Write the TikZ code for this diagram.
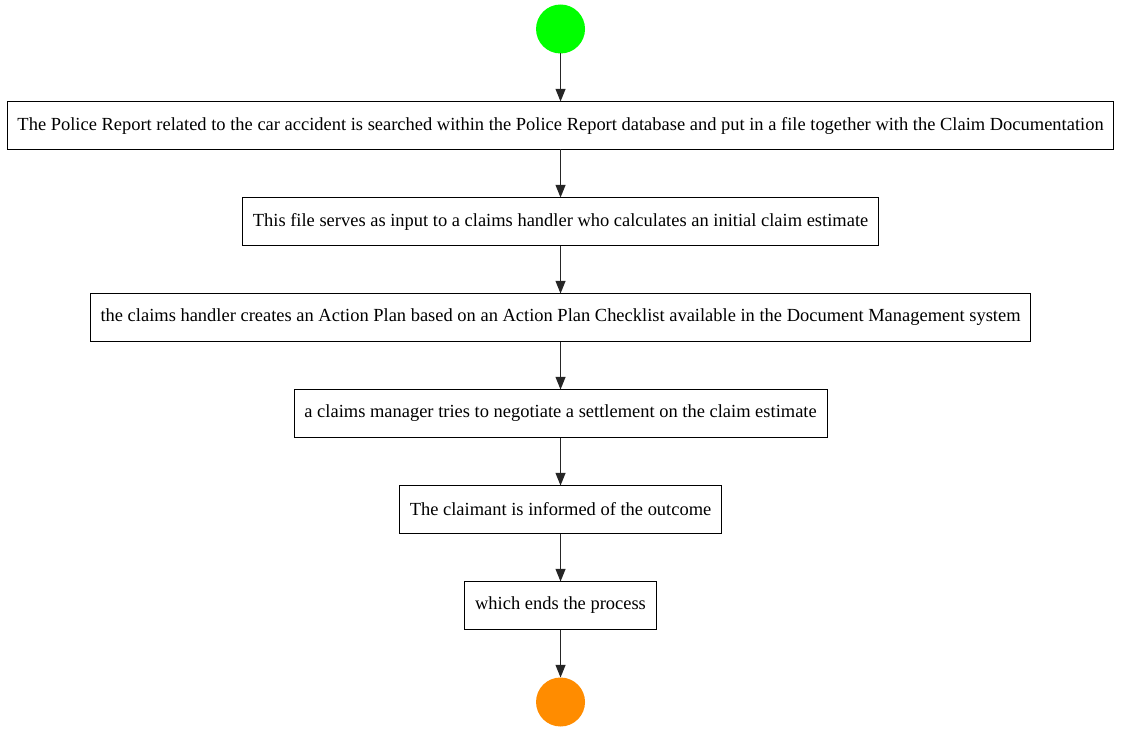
\documentclass[tikz,border=0pt]{standalone}
\usepackage{fontspec}
\setmainfont{Liberation Serif}
\usepackage{xcolor}
\usetikzlibrary{positioning, arrows.meta}

\definecolor{startgreen}{HTML}{00FF00}
\definecolor{endorange}{HTML}{FF8C00}

\begin{document}
\begin{tikzpicture}[node distance=36pt, every node/.style={font=\fontsize{13.85pt}{16pt}\selectfont, align=center}, arrow/.style={-{Triangle[length=9.5pt, width=7.5pt]}, line width=0.8pt, draw=black!85}]
        \tikzstyle{task} = [rectangle, draw=black, line width=0.75pt, outer sep=0pt, inner xsep=7.8pt, minimum height=36pt]
        \tikzstyle{startnode} = [circle, fill=startgreen, minimum size=36.75pt, inner sep=0pt, outer sep=0pt]
        \tikzstyle{endnode} = [circle, fill=endorange, minimum size=36.75pt, inner sep=0pt, outer sep=0pt]

        \useasboundingbox (0,0) rectangle (840.75pt,-548.25pt);

        \node[startnode] (start) at (420.4pt,-21.75pt) {};
        \node[task, below=36pt of start] (police) {The Police Report related to the car accident is searched within the Police Report database and put in a file together with the Claim Documentation};
        \node[task, below=of police] (estimate) {This file serves as input to a claims handler who calculates an initial claim estimate};
        \node[task, below=of estimate] (plan) {the claims handler creates an Action Plan based on an Action Plan Checklist available in the Document Management system};
        \node[task, below=of plan] (negotiate) {a claims manager tries to negotiate a settlement on the claim estimate};
        \node[task, below=of negotiate] (inform) {The claimant is informed of the outcome};
        \node[task, below=of inform] (finish) {which ends the process};
        \node[endnode, below=36pt of finish] (stop) {};

        \draw[arrow] (start) -- (police);
        \draw[arrow] (police) -- (estimate);
        \draw[arrow] (estimate) -- (plan);
        \draw[arrow] (plan) -- (negotiate);
        \draw[arrow] (negotiate) -- (inform);
        \draw[arrow] (inform) -- (finish);
        \draw[arrow] (finish) -- (stop);
    \end{tikzpicture}
\end{document}
